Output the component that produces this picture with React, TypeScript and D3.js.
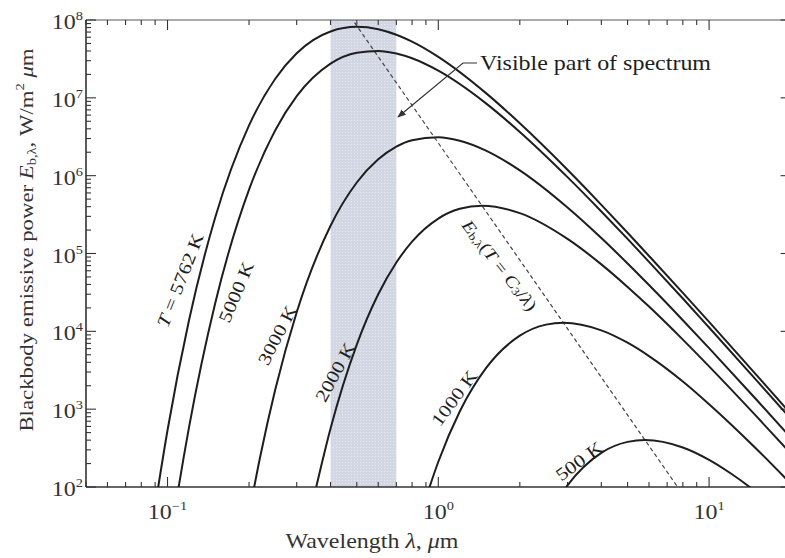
import React from 'react';
import * as d3 from 'd3';

// Wavelength (μm) and emissive power (W/m²·μm)
const lam5762 = [0.09, 0.1, 0.12, 0.15, 0.2, 0.25, 0.3, 0.4, 0.5, 0.6, 0.7, 0.8, 1, 1.5, 2, 3, 4, 5, 6, 8, 10, 15, 20];
const e5762 = [56, 536, 1.38e4, 2.9e5, 4.42e6, 1.76e7, 3.74e7, 7.13e7, 8.17e7, 7.62e7, 6.47e7, 5.27e7, 3.36e7, 1.15e7, 4.71e6, 1.19e6, 4.22e5, 1.85e5, 9.3e4, 3.12e4, 1.32e4, 2.72e3, 879];

const lam5000 = [0.1, 0.11, 0.12, 0.15, 0.2, 0.25, 0.3, 0.4, 0.5, 0.6, 0.7, 0.8, 1, 1.5, 2, 3, 4, 5, 6, 8, 10, 15, 20];
const e5000 = [11.9, 101, 580, 2.3e4, 6.6e5, 3.84e6, 1.05e7, 2.75e7, 3.8e7, 4.01e7, 3.71e7, 3.22e7, 2.23e7, 8.48e6, 3.64e6, 9.57e5, 3.47e5, 1.54e5, 7.82e4, 2.64e4, 1.12e4, 2.33e3, 756];

const lam3000 = [0.2, 0.22, 0.25, 0.3, 0.4, 0.5, 0.6, 0.7, 0.8, 1, 1.2, 1.5, 2, 3, 4, 5, 6, 8, 10, 15, 20];
const e3000 = [45, 247, 1.79e3, 1.76e4, 2.27e5, 8.17e5, 1.62e6, 2.36e6, 2.85e6, 3.12e6, 2.81e6, 2.1e6, 1.17e6, 3.9e5, 1.58e5, 7.44e4, 3.93e4, 1.39e4, 6.08e3, 1.31e3, 432];

const lam2000 = [0.35, 0.4, 0.5, 0.6, 0.7, 0.8, 1, 1.2, 1.45, 2, 3, 4, 5, 6, 8, 10, 15, 20];
const e2000 = [84, 565, 6.75e3, 2.99e4, 7.66e4, 1.42e5, 2.81e5, 3.75e5, 4.12e5, 3.3e5, 1.54e5, 7.25e4, 3.72e4, 2.08e4, 7.83e3, 3.55e3, 801, 270];

const lam1000 = [0.9, 1, 1.2, 1.5, 2, 2.5, 2.9, 4, 5, 6, 8, 10, 15, 20];
const e1000 = [72, 211, 933, 3.36e3, 8.79e3, 1.22e4, 1.29e4, 1.03e4, 7.14e3, 4.81e3, 2.27e3, 1.16e3, 306, 111];

const lam500 = [2.5, 3, 4, 5, 5.8, 8, 10, 12, 15, 20];
const e500 = [38, 105, 275, 380, 402, 322, 223, 150, 85, 36];

// locus of spectral maxima (dashed)
const lamPeak = [0.4, 1, 10];
const ePeak = [2.57e8, 2.63e6, 26.3];

// visible band
const visibleBand = [0.4, 0.7];

const xDomain = [0.05, 20];
const yDomain = [1e2, 1e8];
const xTickLabels = [{ v: 0.1, e: '\u22121' }, { v: 1, e: '0' }, { v: 10, e: '1' }];
const yTickLabels = [{ v: 1e2, e: '2' }, { v: 1e3, e: '3' }, { v: 1e4, e: '4' }, { v: 1e5, e: '5' }, { v: 1e6, e: '6' }, { v: 1e7, e: '7' }, { v: 1e8, e: '8' }];

const W = 785, H = 558;
const X0 = 86, X1 = 790.6, Y0 = 487, Y1 = 20;
const FONT = "'Liberation Serif', 'Times New Roman', serif";
const SX = 1.2;
const INK = '#1e1e1e';

export default function App() {
  const x = d3.scaleLog().domain(xDomain).range([X0, X1]);
  const y = d3.scaleLog().domain(yDomain).range([Y0, Y1]);
  const line = d3
    .line<[number, number]>()
    .x((d) => x(d[0]))
    .y((d) => y(d[1]))
    .curve(d3.curveMonotoneX);
  const straight = d3
    .line<[number, number]>()
    .x((d) => x(d[0]))
    .y((d) => y(d[1]));

  const series: [number[], number[]][] = [
    [lam5762, e5762],
    [lam5000, e5000],
    [lam3000, e3000],
    [lam2000, e2000],
    [lam1000, e1000],
    [lam500, e500],
  ];
  const zip = (a: number[], b: number[]) => a.map((v, i) => [v, b[i]] as [number, number]);

  const isMajor = (v: number) => Math.abs(Math.log10(v) - Math.round(Math.log10(v))) < 1e-6;
  const xt = x.ticks();
  const yt = y.ticks();

  const curveLabels = [
    { x: 180, y: 280, a: -68.5, parts: [{ t: 'T', i: true }, { t: ' = 5762 K' }] },
    { x: 236, y: 292, a: -67, parts: [{ t: '5000 K' }] },
    { x: 277, y: 335, a: -62.7, parts: [{ t: '3000 K' }] },
    { x: 335, y: 372, a: -61.5, parts: [{ t: '2000 K' }] },
    { x: 454, y: 398, a: -53.6, parts: [{ t: '1000 K' }] },
    { x: 579, y: 461, a: -36, parts: [{ t: '500 K' }] },
  ];

  return (
    <svg width={W} height={H} style={{ position: 'absolute', left: 0, top: 0, background: '#fff' }} fontFamily={FONT}>
      <defs>
        <clipPath id="plot">
          <rect x={X0} y={Y1} width={X1 - X0} height={Y0 - Y1} />
        </clipPath>
        <pattern id="dots" width="3" height="3" patternUnits="userSpaceOnUse">
          <rect width="3" height="3" fill="#d2d7e3" />
          <rect width="1" height="1" fill="#e6e9ef" />
        </pattern>
        <marker id="arr" viewBox="0 0 10 10" refX="9" refY="5" markerWidth="7" markerHeight="7" orient="auto-start-reverse">
          <path d="M0,1 L10,5 L0,9 z" fill="#333" />
        </marker>
      </defs>

      {/* visible band */}
      <rect x={x(visibleBand[0])} y={Y1} width={x(visibleBand[1]) - x(visibleBand[0])} height={Y0 - Y1} fill="url(#dots)" />

      {/* frame */}
      <g stroke="#333" strokeWidth={1.6} fill="none">
        <line x1={X0} x2={X1} y1={Y0} y2={Y0} />
        <line x1={X0} x2={X1} y1={Y1} y2={Y1} strokeWidth={1.2} stroke="#555" />
        <line x1={X0} x2={X0} y1={Y1} y2={Y0} />
        <line x1={X1} x2={X1} y1={Y1} y2={Y0} />
      </g>

      {/* ticks */}
      <g stroke="#333" strokeWidth={1.1}>
        {xt.map((v, i) => {
          const L = isMajor(v) ? 10 : 5;
          return (
            <g key={'xt' + i}>
              <line x1={x(v)} x2={x(v)} y1={Y0} y2={Y0 - L} />
              <line x1={x(v)} x2={x(v)} y1={Y1} y2={Y1 + L} />
            </g>
          );
        })}
        {yt.map((v, i) => {
          const L = isMajor(v) ? 10 : 5;
          return (
            <g key={'yt' + i}>
              <line x1={X0} x2={X0 + L} y1={y(v)} y2={y(v)} />
              {isMajor(v) && <line x1={X1} x2={X1 - 10} y1={y(v)} y2={y(v)} />}
            </g>
          );
        })}
      </g>

      {/* tick labels */}
      <g fill="#333" fontSize={20}>
        {xTickLabels.map((t) => (
          <text key={'xl' + t.v} transform={`translate(${x(t.v)},${Y0 + 32}) scale(${SX},1)`} textAnchor="middle">
            10<tspan dy={-9} fontSize={12}>{t.e}</tspan>
          </text>
        ))}
        {yTickLabels.map((t) => (
          <text key={'yl' + t.v} transform={`translate(${X0 - 3},${y(t.v) + 9}) scale(${SX},1)`} textAnchor="end">
            10<tspan dy={-9} fontSize={12}>{t.e}</tspan>
          </text>
        ))}
      </g>

      {/* curves */}
      <g clipPath="url(#plot)" fill="none">
        <path d={straight(zip(lamPeak, ePeak)) || ''} stroke="#444" strokeWidth={1.2} strokeDasharray="4,3" />
        {series.map(([l, e], i) => (
          <path key={'c' + i} d={line(zip(l, e)) || ''} stroke={INK} strokeWidth={2} />
        ))}
      </g>

      {/* curve labels */}
      <g fill={INK} fontSize={18}>
        {curveLabels.map((c, i) => (
          <text key={'cl' + i} transform={`translate(${c.x},${c.y}) rotate(${c.a}) scale(${SX},1)`} textAnchor="middle" dominantBaseline="central">
            {c.parts.map((p, j) => (
              <tspan key={j} fontStyle={p.i ? 'italic' : 'normal'}>{p.t}</tspan>
            ))}
          </text>
        ))}
        <text transform={`translate(500,265) rotate(52) scale(${SX},1)`} textAnchor="middle" dominantBaseline="central" fontSize={17}>
          <tspan fontStyle="italic">E</tspan>
          <tspan fontSize={11} dy={4}>b,λ</tspan>
          <tspan dy={-4}>(</tspan>
          <tspan fontStyle="italic">T</tspan>
          <tspan> = </tspan>
          <tspan fontStyle="italic">C</tspan>
          <tspan fontSize={11} dy={4}>3</tspan>
          <tspan dy={-4}>/</tspan>
          <tspan fontStyle="italic">λ</tspan>
          <tspan>)</tspan>
        </text>
      </g>

      {/* visible annotation */}
      <path d="M477,63 L463,63 L398,117" fill="none" stroke="#333" strokeWidth={1.2} markerEnd="url(#arr)" />
      <text transform={`translate(480,70) scale(${SX},1)`} fontSize={20} fill={INK}>
        Visible part of spectrum
      </text>

      {/* axis titles */}
      <text transform={`translate(372,548) scale(${SX},1)`} textAnchor="middle" fontSize={20} fill="#333">
        Wavelength <tspan fontStyle="italic">λ</tspan>, <tspan fontStyle="italic">μ</tspan>m
      </text>
      <text transform={`translate(27,240) rotate(-90) scale(${SX},1)`} textAnchor="middle" dominantBaseline="central" fontSize={19} fill="#333">
        Blackbody emissive power <tspan fontStyle="italic">E</tspan>
        <tspan fontSize={12} dy={4}>b,λ</tspan>
        <tspan dy={-4}>, W/m</tspan>
        <tspan fontSize={12} dy={-8}>2</tspan>
        <tspan dy={8}> </tspan>
        <tspan fontStyle="italic">μ</tspan>m
      </text>
    </svg>
  );
}
